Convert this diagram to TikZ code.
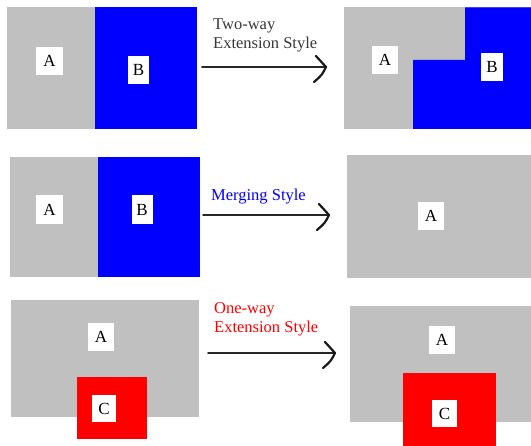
\documentclass[tikz,border=0pt]{standalone}
\usepackage{fontspec}
\setmainfont{Liberation Serif}
\definecolor{panelgray}{HTML}{C0C0C0}
\definecolor{txtgray}{HTML}{383838}
\begin{document}
\begin{tikzpicture}[x=1pt,y=-1pt,
  lbl/.style={fill=white, inner sep=0pt, font=\fontsize{17}{17}\selectfont, text=black},
  captxt/.style={font=\fontsize{16.5}{19}\selectfont, anchor=base west, inner sep=0pt},
  conn/.style={line width=1.8pt, draw=black!85, line cap=round, line join=round},
  chev/.style={line width=2.2pt, draw=black!90, line cap=round, line join=round}]
\useasboundingbox (0,0) rectangle (531,446);
% ---------- Row 1: Two-way extension ----------
\fill[panelgray] (7,7.5) rectangle (95,129);
\fill[blue] (95,7.5) rectangle (197,129);
\node[lbl, minimum width=27pt, minimum height=28pt] (a1) at (49.5,61) {A};
\node[lbl, minimum width=21pt, minimum height=28pt] (b1) at (138.5,70) {B};
\node[captxt, text=txtgray] (t1a) at (213,30) {Two-way};
\node[captxt, text=txtgray] (t1b) at (213,49) {Extension Style};
\coordinate (s1) at (202,67);
\coordinate (e1) at (326,67);
\draw[conn] (s1) -- (e1);
\draw[chev] (e1) ++(-10,-11) -- (e1) .. controls +(-4,8) .. +(-12,15);
\fill[panelgray] (344,7.5) rectangle (531,129);
\fill[blue] (465,7.5) -- (531,7.5) -- (531,129) -- (413,129) -- (413,60) -- (465,60) -- cycle;
\node[lbl, minimum width=26pt, minimum height=28pt] (a2) at (385,60) {A};
\node[lbl, minimum width=22pt, minimum height=28pt] (b2) at (492,67) {B};
% ---------- Row 2: Merging ----------
\fill[panelgray] (10,157) rectangle (98,277);
\fill[blue] (98,157) rectangle (200,277);
\node[lbl, minimum width=27pt, minimum height=29pt] (a3) at (49.5,209.5) {A};
\node[lbl, minimum width=21pt, minimum height=29pt] (b3) at (142,209.5) {B};
\node[captxt, text=blue] (t2) at (211,201) {Merging Style};
\coordinate (s2) at (203,215);
\coordinate (e2) at (329,215);
\draw[conn] (s2) -- (e2);
\draw[chev] (e2) ++(-10,-11) -- (e2) .. controls +(-4,8) .. +(-12,15);
\fill[panelgray] (347,155) rectangle (531,278);
\node[lbl, minimum width=26pt, minimum height=28pt] (a4) at (431,216) {A};
% ---------- Row 3: One-way extension ----------
\fill[panelgray] (11,300) rectangle (199,417);
\fill[red] (77,377) rectangle (147,439);
\node[lbl, minimum width=26pt, minimum height=28pt] (a5) at (101,337) {A};
\node[lbl, minimum width=24pt, minimum height=27pt] (c5) at (104,408.5) {C};
\node[captxt, text=red] (t3a) at (214,314) {One-way};
\node[captxt, text=red] (t3b) at (214,333) {Extension Style};
\coordinate (s3) at (208,353);
\coordinate (e3) at (335,353);
\draw[conn] (s3) -- (e3);
\draw[chev] (e3) ++(-10,-11) -- (e3) .. controls +(-4,8) .. +(-12,15);
\fill[panelgray] (350,306) rectangle (531,422);
\fill[red] (403,373) rectangle (496,446);
\node[lbl, minimum width=26pt, minimum height=28pt] (a6) at (442,340) {A};
\node[lbl, minimum width=25pt, minimum height=27pt] (c6) at (444.5,413.5) {C};
\end{tikzpicture}
\end{document}
